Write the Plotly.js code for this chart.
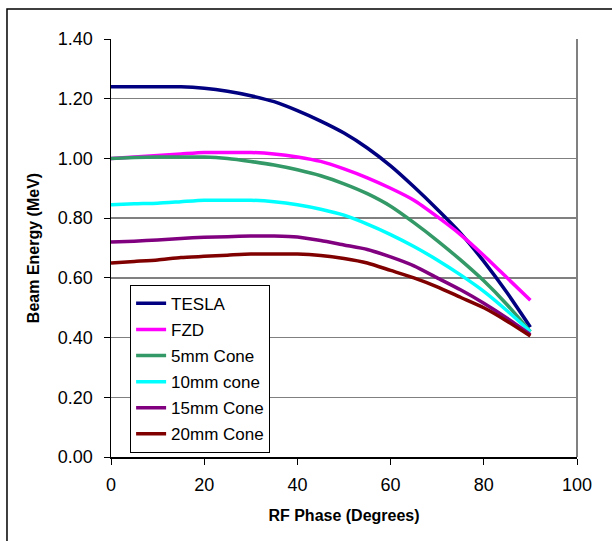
<!DOCTYPE html>
<html>
<head>
<meta charset="utf-8">
<script src="https://cdn.plot.ly/plotly-3.0.1.min.js"></script>
<style>html,body{margin:0;padding:0;background:#fff;}#chart{width:612px;height:541px;}</style>
</head>
<body>
<div id="chart"></div>
<script>
const phase = [0,5,10,15,20,25,30,35,40,45,50,55,60,65,70,75,80,85,90];
const seriesNames = ["TESLA","FZD","5mm Cone","10mm cone","15mm Cone","20mm Cone"];
const tesla = [1.24,1.24,1.24,1.24,1.235,1.225,1.21,1.19,1.16,1.125,1.085,1.035,0.975,0.905,0.83,0.75,0.655,0.55,0.435];
const fzd   = [1.00,1.005,1.01,1.015,1.02,1.02,1.02,1.015,1.005,0.99,0.965,0.935,0.9,0.86,0.805,0.745,0.675,0.60,0.525];
const cone5 = [1.00,1.003,1.005,1.005,1.005,1.0,0.99,0.978,0.962,0.942,0.915,0.882,0.84,0.785,0.725,0.66,0.59,0.51,0.42];
const cone10= [0.845,0.848,0.85,0.855,0.86,0.86,0.86,0.855,0.845,0.83,0.81,0.78,0.745,0.705,0.66,0.61,0.555,0.49,0.42];
const cone15= [0.72,0.723,0.727,0.732,0.736,0.738,0.74,0.74,0.737,0.725,0.71,0.695,0.67,0.64,0.60,0.56,0.515,0.465,0.41];
const cone20= [0.65,0.655,0.66,0.668,0.672,0.676,0.68,0.68,0.68,0.675,0.665,0.65,0.625,0.60,0.57,0.535,0.50,0.455,0.405];
const colors = ["#000080","#FF00FF","#339966","#00FFFF","#800080","#800000"];
const yTicks = [0,0.2,0.4,0.6,0.8,1.0,1.2,1.4];
const yTickText = ["0.00","0.20","0.40","0.60","0.80","1.00","1.20","1.40"];
const xTicks = [0,20,40,60,80,100];

const allY = [tesla,fzd,cone5,cone10,cone15,cone20];
const traces = allY.map((ys,i)=>({
  x: phase, y: ys, type:'scatter', mode:'lines', name: seriesNames[i], legendgroup:'g'+i,
  line:{color:colors[i], width:3.5, shape:'spline', smoothing:0.6}
}));

const F = '"Liberation Sans", Arial, sans-serif';
const layout = {
  width:612, height:541,
  margin:{l:111, r:35, t:39, b:84},
  paper_bgcolor:'#fff', plot_bgcolor:'#fff',
  showlegend:true,
  legend:{x:0.041, y:0.412, xanchor:'left', yanchor:'top', bgcolor:'#fff', bordercolor:'#000', borderwidth:1,
          font:{family:F, size:17, color:'#000'}, tracegroupgap:1, itemwidth:30},
  xaxis:{range:[0,100], tickvals:xTicks, ticktext:xTicks.map(String), ticks:'outside', ticklen:6, tickcolor:'#000',
         showgrid:false, zeroline:false, showline:true, linecolor:'#000', linewidth:1.5,
         ticklabelstandoff:5,
         tickfont:{family:F, size:18, color:'#000'},
         title:{text:'<b>RF Phase (Degrees)</b>', font:{family:F, size:16, color:'#000'}, standoff:15}},
  yaxis:{range:[0,1.4], tickvals:yTicks, ticktext:yTickText, ticks:'outside', ticklen:6, tickcolor:'#000',
         showgrid:true, gridcolor:'#808080', gridwidth:1.5, zeroline:false, showline:true, linecolor:'#000', linewidth:1.5,
         ticklabelstandoff:7,
         tickfont:{family:F, size:18, color:'#000'},
         title:{text:'<b>Beam Energy (MeV)</b>', font:{family:F, size:16, color:'#000'}, standoff:14}},
  shapes:[
    {type:'line', xref:'paper', yref:'paper', x0:1, x1:1, y0:0, y1:1, line:{color:'#808080', width:2}},
    {type:'rect', xref:'paper', yref:'paper', x0:-0.2232, x1:1.2, y0:-0.3, y1:1.0718, line:{color:'#000', width:1.5}, fillcolor:'rgba(0,0,0,0)', layer:'below'}
  ]
};
Plotly.newPlot('chart', traces, layout, {staticPlot:true, displayModeBar:false});
</script>
</body>
</html>
